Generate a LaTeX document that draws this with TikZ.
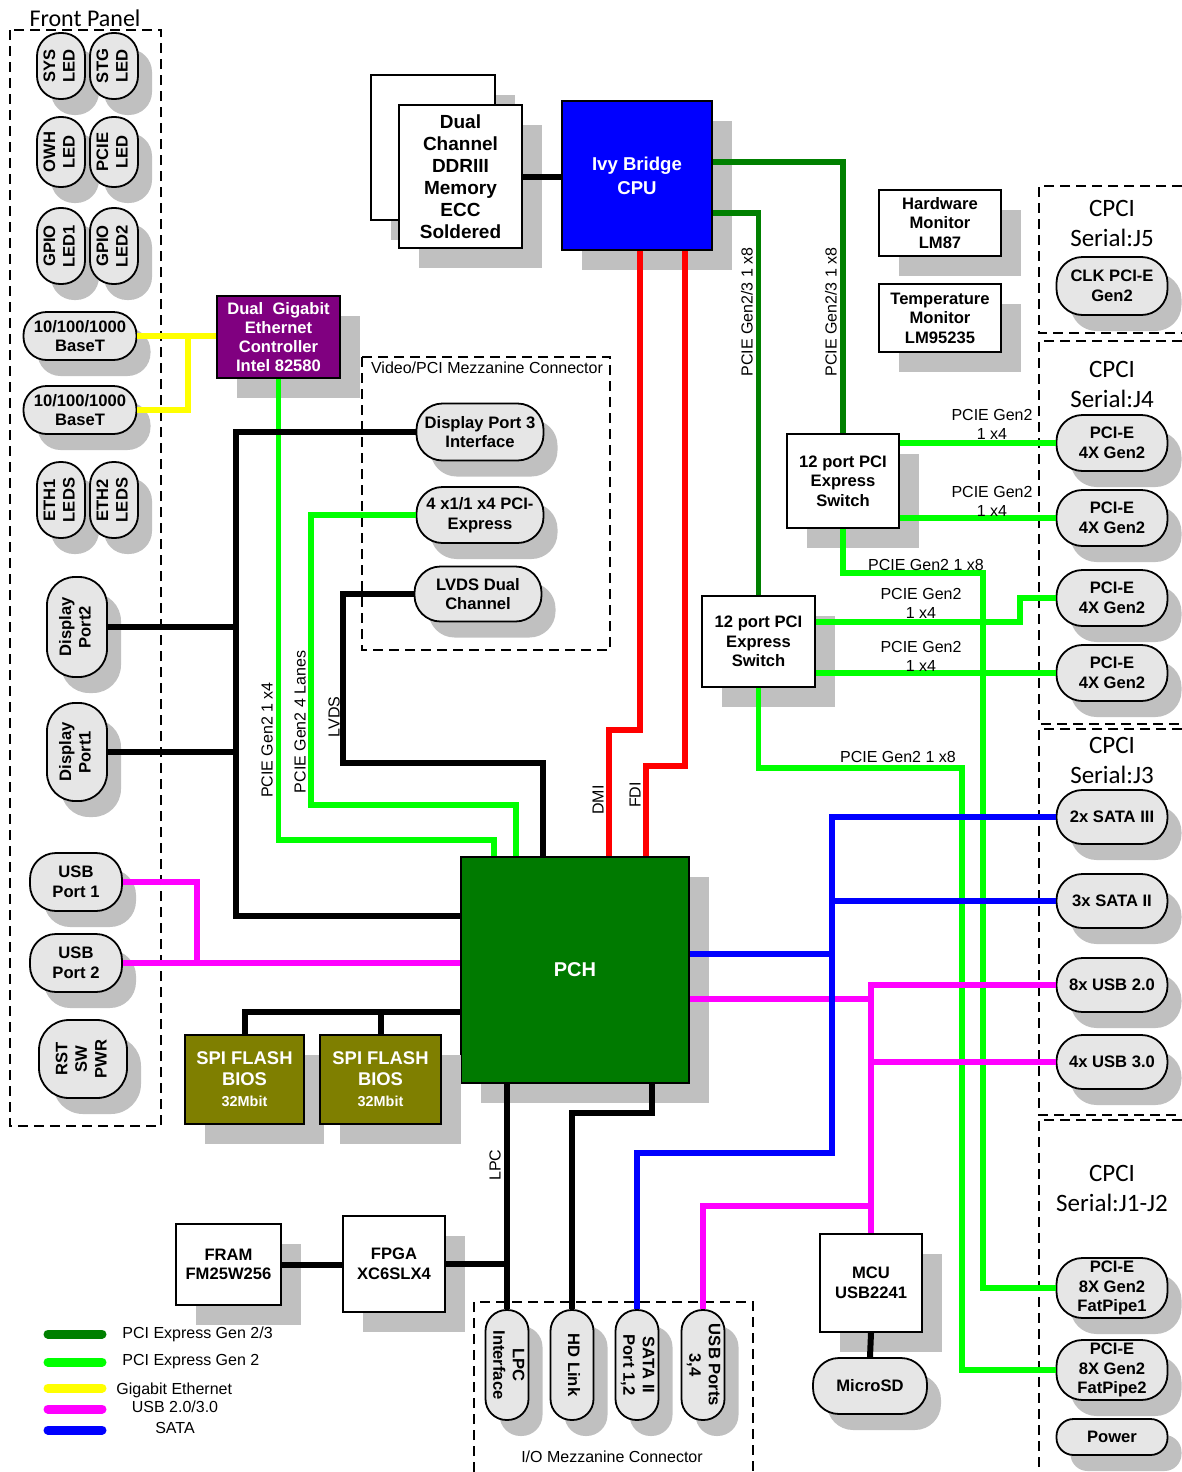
\documentclass[tikz,border=0pt]{standalone}
\usepackage{fontspec}
\setmainfont{Liberation Sans}
\newfontfamily\calibrifont{Carlito}
\usetikzlibrary{shadows}
\definecolor{shgray}{HTML}{C0C0C0}
\definecolor{pillfill}{HTML}{E6E6E6}
\definecolor{pcidark}{HTML}{008000}
\definecolor{pcilight}{HTML}{00FF00}
\definecolor{pchgreen}{HTML}{007A00}
\definecolor{gbeyellow}{HTML}{FFFF00}
\definecolor{usbmag}{HTML}{FF00FF}
\definecolor{satablue}{HTML}{0000FF}
\definecolor{ethpurple}{HTML}{800080}
\definecolor{spiolive}{HTML}{7F7F00}
% rotated multi-line label
\newcommand\vlab[2]{\rotatebox{#1}{\begin{tabular}{@{}c@{}}#2\end{tabular}}}

\begin{document}
\begin{tikzpicture}[x=0.5pt,y=-0.5pt,
  boxfont/.style={font=\bfseries\fontsize{8.3}{9.8}\selectfont},
  box/.style={draw, line width=1pt, fill=white, align=center, inner sep=0pt, boxfont,
     drop shadow={shadow xshift=10pt, shadow yshift=-10pt, fill=shgray, opacity=1}},
  pill/.style={draw, line width=0.9pt, fill=pillfill, rounded corners=12pt, align=center,
     inner sep=0pt, boxfont,
     drop shadow={shadow xshift=7pt, shadow yshift=-8pt, fill=shgray, opacity=1}},
  vpill/.style={pill, minimum width=24pt, rounded corners=11.5pt},
  rpill/.style={pill, minimum width=55.5pt, rounded corners=13pt},
  iopill/.style={pill, minimum width=21.5pt, minimum height=55pt, rounded corners=10.5pt},
  lbl/.style={font=\fontsize{8}{9.5}\selectfont, align=center, inner sep=0pt},
  cpcititle/.style={font=\calibrifont\fontsize{12.5}{15}\selectfont, align=center, inner sep=0pt},
  frame/.style={dash pattern=on 5pt off 3pt, line width=1pt},
  wire/.style={line width=2.6pt},
  blk/.style={wire, line width=3pt, black}
]
\useasboundingbox (0,0) rectangle (1182,1472);

% ---------- dashed connector frames ----------
\draw[frame] (10,30) rectangle (161,1126);
\node[cpcititle, font=\calibrifont\fontsize{12}{14}\selectfont] (fptitle) at (85,18) {Front Panel};
\draw[frame] (362,357) rectangle (610,650);
\draw[frame] (474,1472) |- (753,1302) -- (753,1472);
\draw[frame] (1182,186) -| (1039,333) -- (1182,333);
\draw[frame] (1182,341) -| (1039,724) -- (1182,724);
\draw[frame] (1182,729) -| (1039,1115) -- (1182,1115);
\draw[frame] (1182,1120) -| (1039,1472);

\node[lbl] (vmezz) at (487,368) {Video/PCI Mezzanine Connector};
\node[lbl] (iomezz) at (612,1457) {I/O Mezzanine Connector};
\node[cpcititle] (j5t) at (1112,223) {CPCI\\Serial:J5};
\node[cpcititle] (j4t) at (1112,384) {CPCI\\Serial:J4};
\node[cpcititle] (j3t) at (1112,760) {CPCI\\Serial:J3};
\node[cpcititle] (j12t) at (1112,1188) {CPCI\\Serial:J1-J2};

% ---------- front panel ----------
\begin{scope}[every node/.append style={font=\bfseries\fontsize{7.6}{9}\selectfont}]
\node[vpill, minimum height=33pt] (sys) at (61,66) {\vlab{90}{SYS\\LED}};
\node[vpill, minimum height=33pt] (stg) at (114,66) {\vlab{90}{STG\\LED}};
\node[vpill, minimum height=35pt] (owh) at (61,152) {\vlab{90}{OWH\\LED}};
\node[vpill, minimum height=35pt] (pcie) at (114,152) {\vlab{90}{PCIE\\LED}};
\node[vpill, minimum height=38pt] (gpio1) at (61,246) {\vlab{90}{GPIO\\LED1}};
\node[vpill, minimum height=38pt] (gpio2) at (114,246) {\vlab{90}{GPIO\\LED2}};
\node[vpill, minimum height=38pt] (eth1) at (61,500) {\vlab{90}{ETH1\\LEDS}};
\node[vpill, minimum height=38pt] (eth2) at (114,500) {\vlab{90}{ETH2\\LEDS}};
\node[pill, minimum width=30pt, minimum height=50pt, rounded corners=14pt] (dp2) at (77,627) {\vlab{90}{Display\\Port2}};
\node[pill, minimum width=30pt, minimum height=49pt, rounded corners=14pt] (dp1) at (77,752) {\vlab{90}{Display\\Port1}};
\node[pill, minimum width=44pt, minimum height=39pt, rounded corners=15pt] (rst) at (83,1059) {\vlab{90}{RST\\SW\\PWR}};
\end{scope}
\node[pill, minimum width=56.5pt, minimum height=24pt, rounded corners=11.5pt] (bt1) at (80,336) {10/100/1000\\BaseT};
\node[pill, minimum width=56.5pt, minimum height=24pt, rounded corners=11.5pt] (bt2) at (80,410) {10/100/1000\\BaseT};
\node[pill, minimum width=46pt, minimum height=29pt, rounded corners=13pt] (usb1) at (76,882) {USB\\Port 1};
\node[pill, minimum width=46pt, minimum height=29pt, rounded corners=13pt] (usb2) at (76,963) {USB\\Port 2};

% ---------- video / PCI mezzanine ----------
\node[pill, minimum width=63.5pt, minimum height=28.5pt, rounded corners=13pt] (dp3) at (480,432) {Display Port 3\\Interface};
\node[pill, minimum width=63.5pt, minimum height=28pt, rounded corners=13pt] (pcie4) at (480,515) {4 x1/1 x4 PCI-\\Express};
\node[pill, minimum width=63.5pt, minimum height=27.5pt, rounded corners=13pt] (lvds) at (478,594) {LVDS Dual\\Channel};

% ---------- CPCI serial connectors ----------
\node[rpill, minimum height=29pt] (clk) at (1112,286) {CLK PCI-E\\Gen2};
\node[rpill, minimum height=28pt] (j4a) at (1112,443) {PCI-E\\4X Gen2};
\node[rpill, minimum height=28pt] (j4b) at (1112,518) {PCI-E\\4X Gen2};
\node[rpill, minimum height=28pt] (j4c) at (1112,598) {PCI-E\\4X Gen2};
\node[rpill, minimum height=28pt] (j4d) at (1112,673) {PCI-E\\4X Gen2};
\node[rpill, minimum height=27pt] (sata3) at (1112,817) {2x SATA III};
\node[rpill, minimum height=27pt] (sata2) at (1112,901) {3x SATA II};
\node[rpill, minimum height=27pt] (usb20) at (1112,985) {8x USB 2.0};
\node[rpill, minimum height=27pt] (usb30) at (1112,1062) {4x USB 3.0};
\node[rpill, minimum height=30pt] (fp1) at (1112,1288) {PCI-E\\8X Gen2\\FatPipe1};
\node[rpill, minimum height=30pt] (fp2) at (1112,1370) {PCI-E\\8X Gen2\\FatPipe2};
\node[rpill, minimum height=18pt, rounded corners=8.5pt] (power) at (1112,1437) {Power};

% ---------- I/O mezzanine ----------
\node[iopill] (io1) at (507,1365) {\vlab{-90}{LPC\\Interface}};
\node[iopill] (io2) at (572,1365) {\vlab{-90}{HD Link}};
\node[iopill] (io3) at (637,1365) {\vlab{-90}{SATA II\\Port 1,2}};
\node[iopill] (io4) at (703,1365) {\vlab{-90}{USB Ports\\3,4}};
\node[pill, minimum width=57pt, minimum height=28pt, rounded corners=13pt] (sd) at (870,1386) {MicroSD};

% ---------- chips ----------
\node[box, minimum width=62pt, minimum height=72.5pt] (memback) at (433,147.5) {};
\node[box, minimum width=61.5pt, minimum height=71.5pt, font=\bfseries\fontsize{9.5}{11}\selectfont] (memfront) at (460.5,176.5)
  {Dual\\Channel\\DDRIII\\Memory\\ECC\\Soldered};
\node[box, fill=satablue, text=white, minimum width=75pt, minimum height=74.5pt, font=\bfseries\fontsize{9.3}{12}\selectfont] (cpu) at (637,175.5) {Ivy Bridge\\CPU};
\node[box, minimum width=61pt, minimum height=33pt] (hwmon) at (940,223) {Hardware\\Monitor\\LM87};
\node[box, minimum width=61pt, minimum height=34pt] (tmon) at (940,318) {Temperature\\Monitor\\LM95235};
\node[box, minimum width=56pt, minimum height=47pt] (sw1) at (843,481) {12 port PCI\\Express\\Switch};
\node[box, minimum width=56.5pt, minimum height=45.5pt] (sw2) at (758.5,641.5) {12 port PCI\\Express\\Switch};
\node[box, fill=ethpurple, text=white, minimum width=61.5pt, minimum height=41pt, font=\bfseries\fontsize{8.3}{9.5}\selectfont] (eth) at (278.5,337)
  {Dual~~Gigabit\\Ethernet\\Controller\\Intel 82580};
\node[box, fill=pchgreen, text=white, minimum width=114pt, minimum height=113pt, font=\bfseries\fontsize{10}{12}\selectfont] (pch) at (575,970) {PCH};
\node[box, fill=spiolive, text=white, minimum width=59.5pt, minimum height=44.5pt, font=\bfseries\fontsize{9.2}{10.5}\selectfont] (spi1) at (244.5,1079.5)
  {SPI FLASH\\BIOS\\{\fontsize{7.2}{9}\selectfont 32Mbit}};
\node[box, fill=spiolive, text=white, minimum width=60.5pt, minimum height=44.5pt, font=\bfseries\fontsize{9.2}{10.5}\selectfont] (spi2) at (380.5,1079.5)
  {SPI FLASH\\BIOS\\{\fontsize{7.2}{9}\selectfont 32Mbit}};
\node[box, minimum width=52.5pt, minimum height=40.5pt] (fram) at (228.5,1264.5) {FRAM\\FM25W256};
\node[box, minimum width=51pt, minimum height=48pt] (fpga) at (394,1264) {FPGA\\XC6SLX4};
\node[box, minimum width=51pt, minimum height=49pt] (mcu) at (871,1283) {MCU\\USB2241};

% ---------- buses ----------
% memory
\draw[blk] (memfront.east) -- (memfront.east -| cpu.west);
% PCIe Gen2/3 from the CPU
\draw[wire, pcidark] (cpu.east |- 0,162) -| (sw1.north);
\draw[wire, pcidark] (cpu.east |- 0,213) -| (sw2.north);
% PCIe Gen2 from the switches
\draw[wire, pcilight] (sw1.east |- j4a.west) -- (j4a.west);
\draw[wire, pcilight] (sw1.east |- j4b.west) -- (j4b.west);
\draw[wire, pcilight] (sw1.south) |- (983,573) |- (fp1.west);
\draw[wire, pcilight] (sw2.east |- 0,622) -- (1020,622) |- (j4c.west);
\draw[wire, pcilight] (sw2.east |- j4d.west) -- (j4d.west);
\draw[wire, pcilight] (sw2.south) |- (962,768) |- (fp2.west);
% DMI and FDI
\draw[wire, red] (cpu.south -| 640,0) -- (640,730) -| (pch.north -| 609,0);
\draw[wire, red] (cpu.south -| 685,0) -- (685,766) -| (pch.north -| 646,0);
% PCIe Gen2 into the PCH
\draw[wire, pcilight] (eth.south) -- (278.5,840) -| (pch.north -| 494,0);
\draw[wire, pcilight] (pcie4.west) -| (311,805) -| (pch.north -| 516,0);
% LVDS and display ports
\draw[blk] (lvds.west) -| (343,763) -| (pch.north -| 543,0);
\draw[blk] (dp3.west) -| (236,916) -- (pch.west |- 0,916);
\draw[blk] (dp2.east) -- (dp2.east -| 236,0);
\draw[blk] (dp1.east) -- (dp1.east -| 236,0);
% gigabit ethernet
\draw[wire, gbeyellow] (bt1.east) -- (bt1.east -| eth.west);
\draw[wire, gbeyellow] (bt2.east) -| (bt1.east -| 188,0);
% front USB
\draw[wire, usbmag] (usb1.east) -| (197,963) -- (pch.west |- 0,963);
\draw[wire, usbmag] (usb2.east) -- (pch.west |- usb2.east);
% USB to the backplane
\draw[wire, usbmag] (pch.east |- 0,999) -- (871,999);
\draw[wire, usbmag] (usb20.west) -| (mcu.north);
\draw[wire, usbmag] (usb30.west) -- (usb30.west -| mcu.north);
\draw[wire, usbmag] (io4.north) |- (mcu.north |- 0,1206);
% SATA
\draw[wire, satablue] (pch.east |- 0,954) -- (832,954);
\draw[wire, satablue] (sata3.west) -| (832,1153) -| (io3.north);
\draw[wire, satablue] (sata2.west) -- (sata2.west -| 832,0);
% HD link, LPC, SPI
\draw[blk] (pch.south -| 652,0) -- (652,1113) -| (io2.north);
\draw[blk] (pch.south -| io1.north) -- (io1.north);
\draw[blk] (fpga.east) -- (fpga.east -| io1.north);
\draw[blk] (fram.east) -- (fram.east -| fpga.west);
\draw[blk] (pch.west |- 0,1012) -| (spi1.north);
\draw[blk] (spi2.north) -- (spi2.north |- 0,1012);
\draw[blk] (mcu.south) -- (sd.north);

% ---------- bus labels ----------
\node[lbl, rotate=90] (l1) at (747,312) {PCIE Gen2/3 1 x8};
\node[lbl, rotate=90] (l2) at (831,312) {PCIE Gen2/3 1 x8};
\node[lbl] (l3) at (992,424) {PCIE Gen2\\1 x4};
\node[lbl] (l4) at (992,501) {PCIE Gen2\\1 x4};
\node[lbl] (l5) at (926,565) {PCIE Gen2 1 x8};
\node[lbl] (l6) at (921,603) {PCIE Gen2\\1 x4};
\node[lbl] (l7) at (921,656) {PCIE Gen2\\1 x4};
\node[lbl] (l8) at (898,757) {PCIE Gen2 1 x8};
\node[lbl, rotate=90] (l9) at (267,740) {PCIE Gen2 1 x4};
\node[lbl, rotate=90] (l10) at (300,722) {PCIE Gen2 4 Lanes};
\node[lbl, rotate=90] (l11) at (334,717) {LVDS};
\node[lbl, rotate=90] (l12) at (598,800) {DMI};
\node[lbl, rotate=90] (l13) at (635,795) {FDI};
\node[lbl, rotate=90] (l14) at (495,1165) {LPC};

% ---------- legend ----------
\draw[line width=4.5pt, line cap=round, pcidark] (48,1334) -- (102,1334);
\draw[line width=4.5pt, line cap=round, pcilight] (48,1362) -- (102,1362);
\draw[line width=4.5pt, line cap=round, gbeyellow] (48,1388) -- (102,1388);
\draw[line width=4.5pt, line cap=round, usbmag] (48,1409) -- (102,1409);
\draw[line width=4.5pt, line cap=round, satablue] (48,1430) -- (102,1430);
\node[lbl, anchor=west] (lg1) at (122,1334) {PCI Express Gen 2/3};
\node[lbl, anchor=west] (lg2) at (122,1362) {PCI Express Gen 2};
\node[lbl, anchor=west] (lg3) at (116,1390) {Gigabit Ethernet};
\node[lbl] (lg4) at (175,1407) {USB 2.0/3.0};
\node[lbl] (lg5) at (175,1428) {SATA};
\end{tikzpicture}
\end{document}
